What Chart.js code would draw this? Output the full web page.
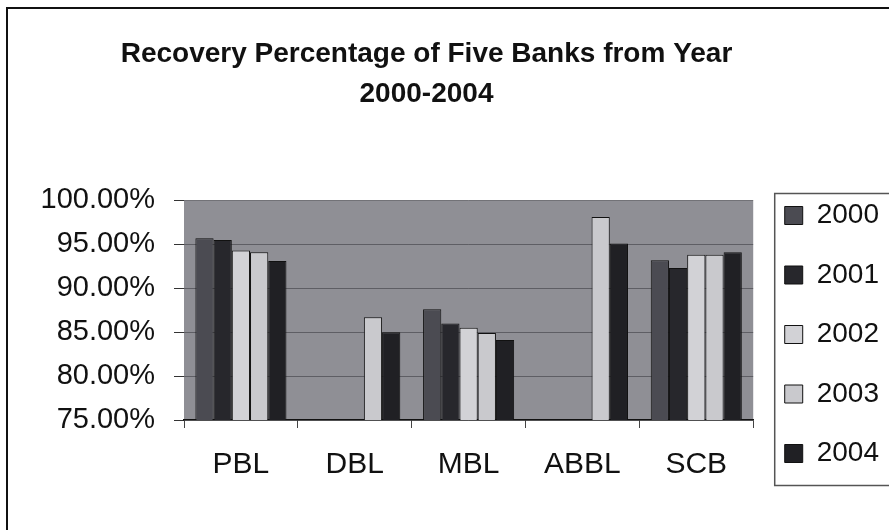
<!DOCTYPE html>
<html lang="en">
<head>
    <meta charset="UTF-8">
    <title>Recovery Percentage of Five Banks</title>
    <script src="https://cdn.jsdelivr.net/npm/chart.js@4/dist/chart.umd.min.js"></script>
    <style>
        * {
            margin: 0;
            padding: 0;
            box-sizing: border-box;
        }

        body {
            background: #ffffff;
            width: 889px;
            height: 530px;
            overflow: hidden;
        }

        .page {
            position: relative;
            width: 889px;
            height: 530px;
            overflow: hidden;
        }

        .frame {
            position: absolute;
            left: 6px;
            top: 7px;
            width: 900px;
            height: 540px;
            border-left: 2px solid #111;
            border-top: 2px solid #111;
        }

        /* shifted a little left so the title sits where the scan has it */
        .chart-box {
            position: absolute;
            left: -36px;
            top: 0;
            width: 925px;
            height: 530px;
        }
    </style>
</head>
<body>
    <div class="page">
        <div class="frame"></div>
        <div class="chart-box">
            <canvas id="recoveryChart"></canvas>
        </div>
    </div>

    <script>
        const banks = ['PBL', 'DBL', 'MBL', 'ABBL', 'SCB'];
        const years = ['2000', '2001', '2002', '2003', '2004'];

        // recovery percentage per bank, null where the scan shows no bar
        const rec2000 = [95.7, null, 87.6, null, 93.2];
        const rec2001 = [95.5, null, 86.0, null, 92.3];
        const rec2002 = [94.3, null, 85.5, null, 93.8];
        const rec2003 = [94.1, 86.7, 84.9, 98.1, 93.8];
        const rec2004 = [93.1, 85.0, 84.1, 95.1, 94.1];

        const yMin = 75;
        const yMax = 100;
        const yStep = 5;

        const seriesData = [rec2000, rec2001, rec2002, rec2003, rec2004];
        const seriesColors = ['#4b4b52', '#27272c', '#d2d2d6', '#c9c9cd', '#202024'];

        const fontFamily = 'Liberation Sans, Arial, sans-serif';

        // grey plot background and the legend frame
        const plotDecor = {
            id: 'plotDecor',
            beforeDraw(chart) {
                const { ctx, chartArea } = chart;
                ctx.save();
                ctx.fillStyle = '#8f8f95';
                ctx.fillRect(chartArea.left, chartArea.top, chartArea.right - chartArea.left, chartArea.bottom - chartArea.top);
                ctx.restore();
            },
            afterDraw(chart) {
                const boxes = chart.legend.legendHitBoxes;
                if (!boxes || !boxes.length) return;
                const first = boxes[0];
                const last = boxes[boxes.length - 1];
                const ctx = chart.ctx;
                ctx.save();
                ctx.strokeStyle = '#555';
                ctx.lineWidth = 1.5;
                ctx.strokeRect(first.left - 10, first.top - 8, chart.width, last.top + last.height + 26 - first.top);
                ctx.restore();
            }
        };

        const ctx = document.getElementById('recoveryChart').getContext('2d');
        new Chart(ctx, {
            type: 'bar',
            data: {
                labels: banks,
                datasets: years.map((year, i) => ({
                    label: year,
                    data: seriesData[i],
                    backgroundColor: seriesColors[i],
                    borderColor: '#111',
                    borderWidth: 1,
                    categoryPercentage: 0.8,
                    barPercentage: 1.0
                }))
            },
            options: {
                responsive: true,
                maintainAspectRatio: false,
                animation: false,
                layout: {
                    padding: { left: 0, right: 0, top: 0, bottom: 31 }
                },
                scales: {
                    x: {
                        grid: {
                            display: true,
                            drawOnChartArea: false,
                            drawTicks: true,
                            tickLength: 8,
                            tickColor: '#444',
                            offset: true
                        },
                        border: { display: true, color: '#111', width: 1.5 },
                        ticks: {
                            color: '#111',
                            padding: 19,
                            font: { family: fontFamily, size: 30 }
                        },
                        afterFit(scale) {
                            scale.height = 79;
                        }
                    },
                    y: {
                        min: yMin,
                        max: yMax,
                        grid: {
                            color: 'rgba(55, 55, 60, 0.55)',
                            tickColor: '#333',
                            tickLength: 10,
                            lineWidth: 1
                        },
                        border: { display: false },
                        ticks: {
                            stepSize: yStep,
                            color: '#111',
                            padding: 19,
                            font: { family: fontFamily, size: 29 },
                            callback: (v) => v.toFixed(2) + '%'
                        },
                        afterFit(scale) {
                            scale.width = 220;
                        }
                    }
                },
                plugins: {
                    title: {
                        display: true,
                        text: ['Recovery Percentage of Five Banks from Year', '2000-2004'],
                        color: '#111',
                        font: { family: fontFamily, size: 28, weight: 'bold', lineHeight: 1.4 },
                        padding: { top: 35, bottom: 87 }
                    },
                    legend: {
                        display: true,
                        position: 'right',
                        align: 'end',
                        labels: {
                            color: '#111',
                            boxWidth: 18,
                            boxHeight: 18,
                            padding: 31.5,
                            font: { family: fontFamily, size: 28 }
                        }
                    },
                    tooltip: { enabled: false }
                }
            },
            plugins: [plotDecor]
        });
    </script>
</body>
</html>
